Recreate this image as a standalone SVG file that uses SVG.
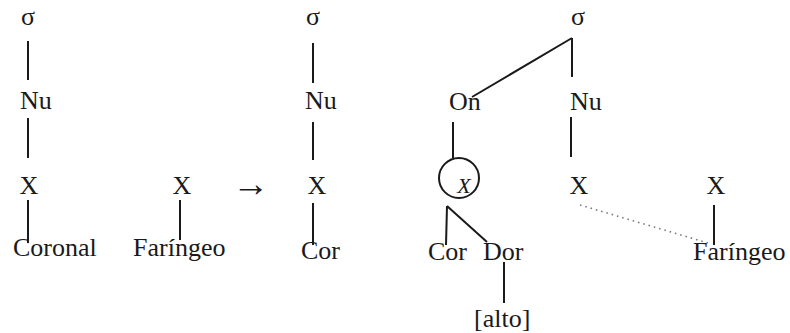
<svg xmlns="http://www.w3.org/2000/svg" width="790" height="333" viewBox="0 0 790 333">
<style>
text{font-family:"Liberation Serif","DejaVu Serif",serif;font-size:26px;fill:#1a1a1a}
.m{text-anchor:middle}
line,circle{stroke:#1a1a1a;stroke-width:2;fill:none}
.dot{stroke:#777;stroke-width:1.6;stroke-dasharray:1.5 4}
</style>
<rect width="790" height="333" fill="#fff"/>
<g id="connectors">
<line x1="28" y1="41" x2="28" y2="80"/>
<line x1="28" y1="118" x2="28" y2="158"/>
<line x1="28" y1="200" x2="28" y2="243"/>
<line x1="180" y1="200" x2="180" y2="240"/>
<line x1="313" y1="43" x2="313" y2="83"/>
<line x1="313" y1="122" x2="313" y2="160"/>
<line x1="313" y1="203" x2="313" y2="245"/>
<line x1="472" y1="97" x2="572" y2="38"/>
<line x1="572" y1="38" x2="572" y2="77"/>
<line x1="571" y1="117" x2="571" y2="157"/>
<line x1="453" y1="122" x2="453" y2="158"/>
<line x1="447" y1="206" x2="446" y2="245"/>
<line x1="447" y1="206" x2="487" y2="242"/>
<line x1="504" y1="262" x2="504" y2="303"/>
<line x1="714" y1="205" x2="714" y2="245"/>
<line class="dot" x1="580" y1="205" x2="708" y2="243"/>
</g>
<g id="n1-sigma"><text class="m" x="28" y="25">σ</text></g>
<g id="n1-nu"><text x="20" y="109">Nu</text></g>
<g id="n1-x"><text class="m" x="29" y="194">X</text></g>
<g id="n1-coronal"><text x="13" y="256">Coronal</text></g>
<g id="n2-x"><text class="m" x="182" y="194">X</text></g>
<g id="n2-faringeo"><text x="133" y="256">Faríngeo</text></g>
<g id="arrow"><text x="232" y="196" style="font-size:37px">→</text></g>
<g id="n3-sigma"><text class="m" x="313" y="25">σ</text></g>
<g id="n3-nu"><text x="305" y="109">Nu</text></g>
<g id="n3-x"><text class="m" x="317" y="194">X</text></g>
<g id="n3-cor"><text x="301" y="259">Cor</text></g>
<g id="n4-sigma"><text class="m" x="578" y="25">σ</text></g>
<g id="n4-on"><text x="449" y="110">On</text></g>
<g id="n4-nu"><text x="570" y="110">Nu</text></g>
<g id="n4-xc"><circle cx="459" cy="178" r="20"/><text class="m" x="464" y="193" style="font-style:italic;font-size:22px">X</text></g>
<g id="n4-cor"><text x="428" y="260">Cor</text></g>
<g id="n4-dor"><text x="483" y="260">Dor</text></g>
<g id="n4-alto"><text x="474" y="327">[alto]</text></g>
<g id="n4-x"><text class="m" x="579" y="194">X</text></g>
<g id="n5-x"><text class="m" x="716" y="194">X</text></g>
<g id="n5-faringeo"><text x="693" y="260">Faríngeo</text></g>
</svg>
